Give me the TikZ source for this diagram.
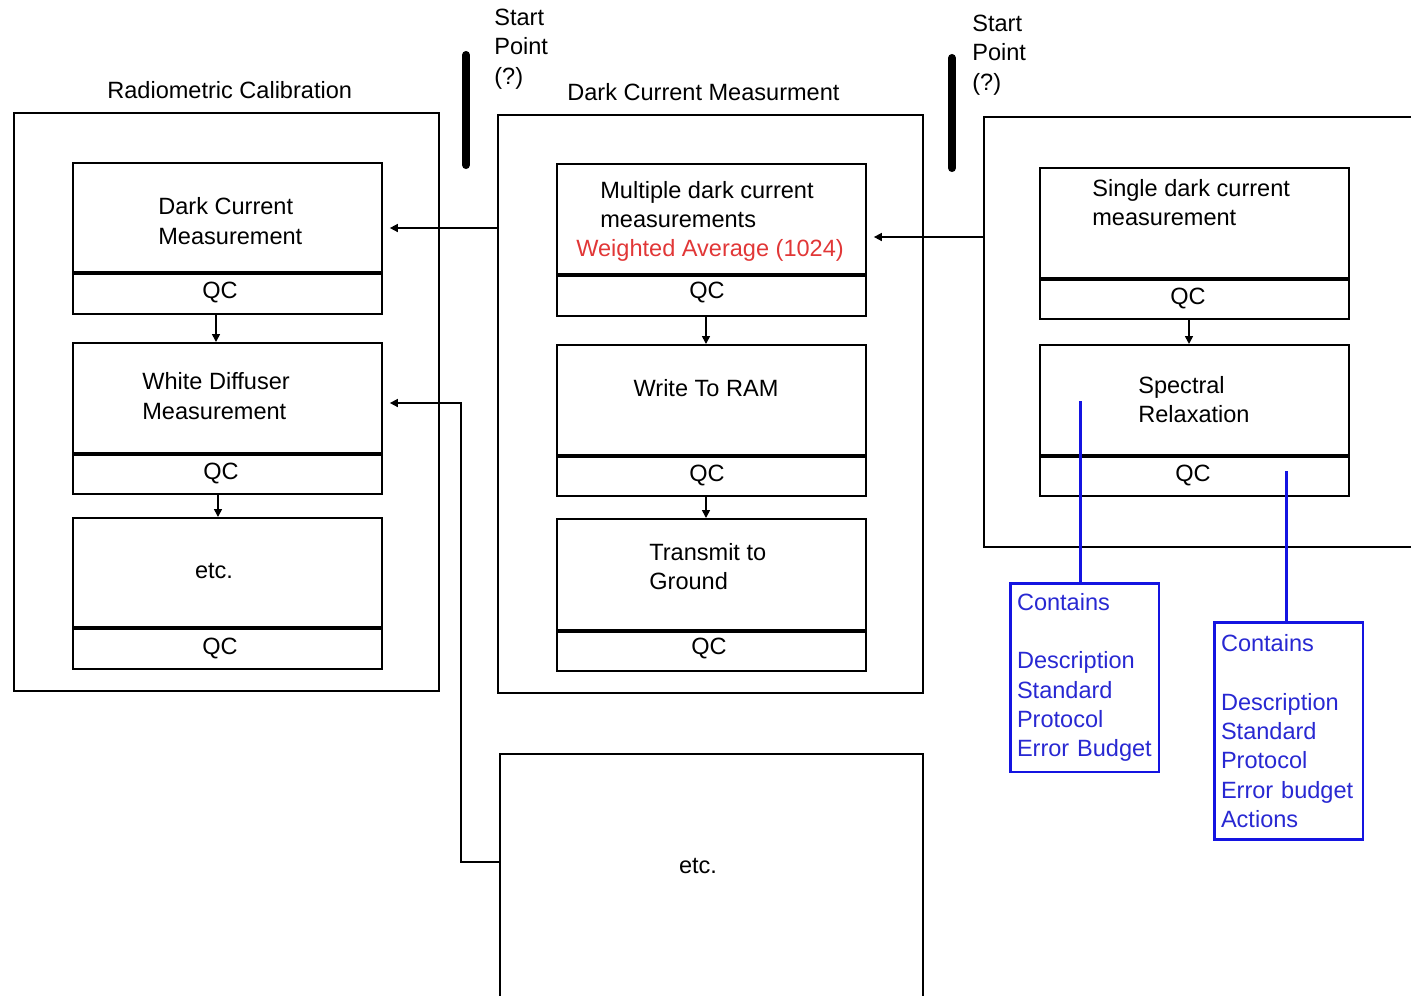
\documentclass[tikz,border=0pt]{standalone}
\usepackage{fontspec}
\setmainfont{Liberation Sans}
\usetikzlibrary{arrows.meta}
\definecolor{dblue}{RGB}{20,20,225}
\definecolor{btext}{RGB}{40,40,210}
\definecolor{rtext}{RGB}{225,55,55}
\begin{document}
\begin{tikzpicture}[x=0.02cm,y=-0.02cm,
  every node/.style={font=\fontsize{13.4}{16.7}\selectfont, inner sep=0pt},
  outer/.style={draw, line width=1.1pt, anchor=north west, minimum width=8.5cm, minimum height=11.56cm},
  inbox/.style={draw, line width=1.1pt, anchor=north west, minimum width=6.18cm, minimum height=3.02cm},
  div/.style={line width=1.9pt},
  arr/.style={line width=0.9pt, -{Triangle[length=4.5pt,width=4.5pt]}},
  txt/.style={anchor=west, align=left},
  qc/.style={anchor=center},
  bluebox/.style={draw=dblue, line width=1.7pt, text=btext, align=left, inner xsep=0.14cm, text width=2.7cm, minimum width=2.98cm},
  blueline/.style={draw=dblue, line width=1.7pt},
  bar/.style={line width=4.6pt, line cap=round}
]
\clip (0,0) rectangle (1411,995);

% outer frames
\node[outer] (o1) at (13,112) {};
\node[outer] (o2) at (497,114) {};
\node[outer, minimum width=8.8cm, minimum height=8.6cm] (o3) at (983,116) {};
\node[outer, minimum width=8.46cm, minimum height=5.4cm] (o4) at (499,753) {};

% titles
\node[txt] (t1) at (107,90) {Radiometric Calibration};
\node[txt] (t2) at (567,92) {Dark Current Measurment};
\node[txt] (s1) at (494,49) {Start\\Point\\(?)};
\node[txt] (s2) at (972,55) {Start\\Point\\(?)};
\draw[bar] (466,55) -- (466,165);
\draw[bar] (952,58) -- (952,168);

% column 1
\node[inbox] (a) at (72,162) {};
\draw[div] (72,273) -- (381,273);
\node[txt] (at) at (158,221) {Dark Current\\Measurement};
\node[qc] (aq) at (220,292) {QC};

\node[inbox] (b) at (72,342) {};
\draw[div] (72,454) -- (381,454);
\node[txt] (bt) at (142,396) {White Diffuser\\Measurement};
\node[qc] (bq) at (221,473) {QC};

\node[inbox] (c) at (72,517) {};
\draw[div] (72,628) -- (381,628);
\node[qc] (ct) at (214,571) {etc.};
\node[qc] (cq) at (220,648) {QC};

% column 2
\node[inbox, minimum height=3.04cm] (d) at (556,163) {};
\draw[div] (556,275) -- (865,275);
\node[txt] (dt) at (600,204.5) {Multiple dark current\\measurements};
\node[txt, text=rtext] (dr) at (576,250) {Weighted Average (1024)};
\node[qc] (dq) at (707,292) {QC};

\node[inbox] (e) at (556,344) {};
\draw[div] (556,456) -- (865,456);
\node[qc] (et) at (706,388) {Write To RAM};
\node[qc] (eq) at (707,475) {QC};

\node[inbox, minimum height=3.04cm] (f) at (556,518) {};
\draw[div] (556,631) -- (865,631);
\node[txt] (ft) at (649,566.5) {Transmit to\\Ground};
\node[qc] (fq) at (709,648) {QC};

% column 3
\node[inbox] (g) at (1039,167) {};
\draw[div] (1039,279) -- (1348,279);
\node[txt] (gt) at (1092,202.5) {Single dark current\\measurement};
\node[qc] (gq) at (1188,298) {QC};

\node[inbox] (h) at (1039,344) {};
\draw[div] (1039,456) -- (1348,456);
\node[txt] (ht) at (1138,399.5) {Spectral\\Relaxation};
\node[qc] (hq) at (1193,475) {QC};

% bottom etc
\node[qc] (o4t) at (698,866) {etc.};

% vertical arrows
\coordinate (x1) at (216,0);
\coordinate (x2) at (218,0);
\coordinate (x3) at (706,0);
\coordinate (x4) at (1189,0);
\draw[arr] (a.south -| x1) -- (b.north -| x1);
\draw[arr] (b.south -| x2) -- (c.north -| x2);
\draw[arr] (d.south -| x3) -- (e.north -| x3);
\draw[arr] (e.south -| x3) -- (f.north -| x3);
\draw[arr] (g.south -| x4) -- (h.north -| x4);

% horizontal arrows
\coordinate (p1) at (497,228);
\coordinate (p2) at (983,237);
\coordinate (p3) at (499,862);
\coordinate (q3) at (461,403);
\draw[arr, shorten >=0.14cm] (p1) -- (p1 -| a.east);
\draw[arr, shorten >=0.14cm] (p2) -- (p2 -| d.east);
\draw[arr, shorten >=0.14cm] (p3) -| (q3) -- (q3 -| b.east);

% blue notes
\node[bluebox, minimum height=3.78cm] (n1) at (1084.5,677.5) {Contains\\[16.7pt]Description\\Standard\\Protocol\\Error Budget};
\node[bluebox, minimum height=4.36cm] (n2) at (1288.5,731) {Contains\\[16.7pt]Description\\Standard\\Protocol\\Error budget\\Actions};
\coordinate (h1) at (1080,401);
\coordinate (h2) at (1286,471);
\draw[blueline] (h1) -- (h1 |- n1.north);
\draw[blueline] (h2) -- (h2 |- n2.north);
\end{tikzpicture}
\end{document}
